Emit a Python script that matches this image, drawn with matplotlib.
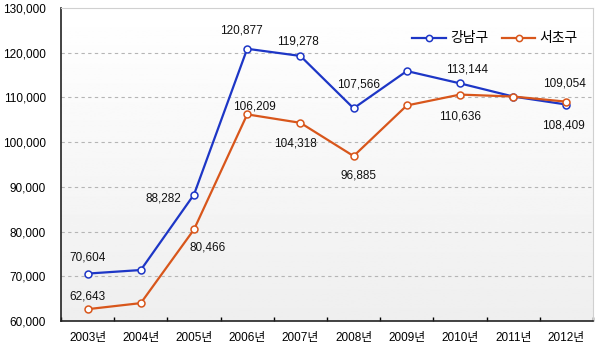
import matplotlib
matplotlib.use("Agg")
import matplotlib.pyplot as plt
import numpy as np

plt.rcParams['font.family'] = ['Liberation Sans', 'Noto Sans CJK KR', 'DejaVu Sans']

# data
years = ["2003년", "2004년", "2005년", "2006년", "2007년",
         "2008년", "2009년", "2010년", "2011년", "2012년"]
gangnam = [70604, 71400, 88282, 120877, 119278, 107566, 115900, 113144, 110200, 108409]
seocho = [62643, 64000, 80466, 106209, 104318, 96885, 108200, 110636, 110200, 109054]

# which points get a value label, and pixel offset of that label
gangnam_labels = {0: (0, 16), 2: (-31, -4), 3: (-6, 18), 4: (-2, 14),
                  5: (5, 24), 7: (7, 14), 9: (-3, -21)}
seocho_labels = {0: (0, 13), 2: (14, -18), 3: (7, 8), 4: (-5, -21),
                 5: (5, -19), 7: (0, -22), 9: (-2, 18)}

blue = "#1d36c6"
orange = "#d8561b"

fig = plt.figure(figsize=(6, 3.49), dpi=100)
ax = fig.add_axes([61 / 600, 28 / 349, 532 / 600, 313 / 349])

x = np.arange(len(years))
ax.set_xlim(-0.5, len(years) - 0.5)
ax.set_ylim(60000, 130000)

# soft grey gradient background
grad = np.linspace(0.935, 1.0, 256).reshape(-1, 1)
ax.imshow(grad, cmap="gray", vmin=0, vmax=1, aspect="auto",
          extent=(-0.5, len(years) - 0.5, 60000, 130000), origin="lower", zorder=0)

for yv in range(70000, 130000, 10000):
    ax.axhline(yv, color="#b5b5b5", lw=0.8, ls=(0, (3, 3)), zorder=1)

ax.plot(x, gangnam, color=blue, lw=1.6, marker="o", ms=5, mfc="white",
        mec=blue, mew=1.1, label="강남구", zorder=3)
ax.plot(x, seocho, color=orange, lw=1.6, marker="o", ms=5, mfc="white",
        mec=orange, mew=1.1, label="서초구", zorder=3)

for i, off in gangnam_labels.items():
    ax.annotate(f"{gangnam[i]:,}", (x[i], gangnam[i]), xytext=off,
                textcoords="offset pixels", ha="center", va="center",
                fontsize=8.5, color="#111111")
for i, off in seocho_labels.items():
    ax.annotate(f"{seocho[i]:,}", (x[i], seocho[i]), xytext=off,
                textcoords="offset pixels", ha="center", va="center",
                fontsize=8.5, color="#111111")

ax.set_xticks(x)
ax.set_xticklabels(years, fontsize=8.5)
ax.set_xticks(np.arange(-0.5, len(years)), minor=True)
ax.tick_params(axis="x", which="major", length=0, pad=8)
ax.tick_params(axis="x", which="minor", length=3, direction="in", width=1)
ax.set_yticks(range(60000, 130001, 10000))
ax.set_yticklabels([f"{v:,}" for v in range(60000, 130001, 10000)], fontsize=8.5)
ax.tick_params(axis="y", length=0, pad=11)

ax.spines["left"].set_color("#222222")
ax.spines["bottom"].set_color("#222222")
ax.spines["left"].set_linewidth(1.2)
ax.spines["bottom"].set_linewidth(1.2)
ax.spines["top"].set_color("#d0d0d0")
ax.spines["right"].set_color("#d0d0d0")

leg = ax.legend(loc="upper right", ncol=2, frameon=False, fontsize=10,
                bbox_to_anchor=(0.995, 0.965), handlelength=2.4,
                columnspacing=1.0, handletextpad=0.3, markerscale=0.9)

fig.savefig("out.png", dpi=100)
